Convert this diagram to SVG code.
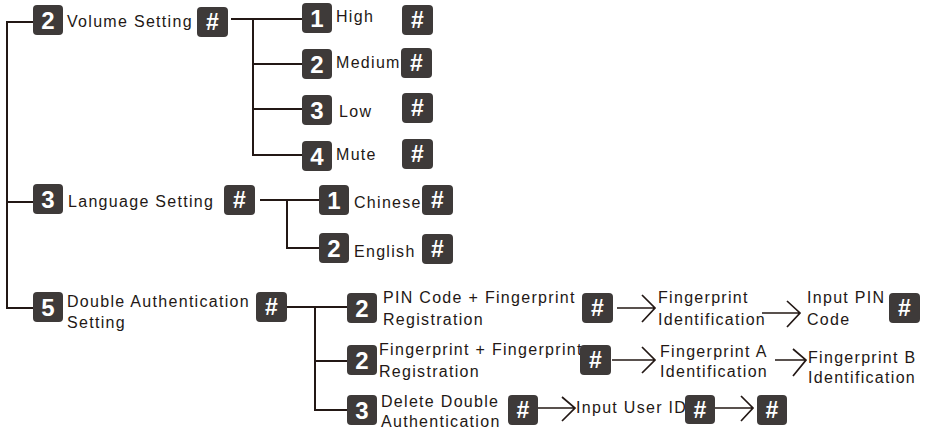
<svg xmlns="http://www.w3.org/2000/svg" width="932" height="435" viewBox="0 0 932 435">
<style>
.bx{fill:#3e3a39}
.num{font-family:"Liberation Sans",Arial,sans-serif;font-weight:bold;font-size:24px;fill:#fff;text-anchor:middle}
.hs{font-family:"Liberation Sans",Arial,sans-serif;font-weight:bold;font-size:23px;fill:#fff;text-anchor:middle}
.t{font-family:"Liberation Sans",Arial,sans-serif;font-size:16px;letter-spacing:1.3px;fill:#231815}
.ln{fill:none;stroke:#231815;stroke-width:2}
.ar{fill:none;stroke:#231815;stroke-width:1.7}
</style>
<g id="connectors">
<path class="ln" d="M33,22 H7 V308 H33 M7,202 H33"/>
<path class="ln" d="M231,19 H302 M253,19 V155 H302 M253,64 H302 M253,109 H302"/>
<path class="ln" d="M260,200 H319 M287,200 V248 H319"/>
<path class="ln" d="M286,307 H347 M315,307 V410 H347 M315,361 H347"/>
<path class="ar" d="M617,308 H655 M642,295 L655,308 L642,322"/>
<path class="ar" d="M762,313 H800 M787,301 L800,313 L787,327"/>
<path class="ar" d="M612,360 H655 M642,347 L655,360 L642,373"/>
<path class="ar" d="M775,360 H806 M793,349 L806,360 L793,376"/>
<path class="ar" d="M538,408 H575 M562,397 L575,408 L562,421"/>
<path class="ar" d="M715,408 H753 M741,396 L753,408 L741,421"/>
</g>
<g id="volume">
<rect class="bx" x="33" y="5" width="30" height="30" rx="4"/><text class="num" x="48" y="29">2</text>
<text class="t" x="67" y="27">Volume Setting</text>
<rect class="bx" x="197" y="7" width="31" height="30" rx="4"/><text class="hs" x="212.5" y="30">#</text>
</g>
<g id="high">
<rect class="bx" x="302" y="3" width="30" height="30" rx="4"/><text class="num" x="317" y="27">1</text>
<text class="t" x="336" y="22">High</text>
<rect class="bx" x="402" y="5" width="31" height="30" rx="4"/><text class="hs" x="417.5" y="28">#</text>
</g>
<g id="medium">
<rect class="bx" x="302" y="49" width="30" height="30" rx="4"/><text class="num" x="317" y="73">2</text>
<text class="t" x="336" y="68">Medium</text>
<rect class="bx" x="401" y="48" width="31" height="30" rx="4"/><text class="hs" x="416.5" y="71">#</text>
</g>
<g id="low">
<rect class="bx" x="302" y="95" width="30" height="30" rx="4"/><text class="num" x="317" y="119">3</text>
<text class="t" x="339" y="117">Low</text>
<rect class="bx" x="402" y="93" width="31" height="30" rx="4"/><text class="hs" x="417.5" y="116">#</text>
</g>
<g id="mute">
<rect class="bx" x="302" y="141" width="30" height="30" rx="4"/><text class="num" x="317" y="165">4</text>
<text class="t" x="336" y="160">Mute</text>
<rect class="bx" x="402" y="139" width="31" height="30" rx="4"/><text class="hs" x="417.5" y="162">#</text>
</g>
<g id="language">
<rect class="bx" x="33" y="184" width="30" height="30" rx="4"/><text class="num" x="48" y="208">3</text>
<text class="t" x="68" y="207">Language Setting</text>
<rect class="bx" x="224" y="185" width="31" height="30" rx="4"/><text class="hs" x="239.5" y="208">#</text>
</g>
<g id="chinese">
<rect class="bx" x="319" y="185" width="30" height="30" rx="4"/><text class="num" x="334" y="209">1</text>
<text class="t" x="354" y="208">Chinese</text>
<rect class="bx" x="422" y="185" width="31" height="30" rx="4"/><text class="hs" x="437.5" y="208">#</text>
</g>
<g id="english">
<rect class="bx" x="319" y="233" width="30" height="30" rx="4"/><text class="num" x="334" y="257">2</text>
<text class="t" x="354" y="257">English</text>
<rect class="bx" x="422" y="234" width="31" height="30" rx="4"/><text class="hs" x="437.5" y="257">#</text>
</g>
<g id="double">
<rect class="bx" x="33" y="292" width="30" height="30" rx="4"/><text class="num" x="48" y="316">5</text>
<text class="t" x="67" y="307">Double Authentication</text>
<text class="t" x="67" y="328">Setting</text>
<rect class="bx" x="256" y="292" width="31" height="30" rx="4"/><text class="hs" x="271.5" y="315">#</text>
</g>
<g id="pin-reg">
<rect class="bx" x="347" y="293" width="30" height="30" rx="4"/><text class="num" x="362" y="317">2</text>
<text class="t" x="383" y="303">PIN Code + Fingerprint</text>
<text class="t" x="383" y="325">Registration</text>
<rect class="bx" x="582" y="293" width="31" height="30" rx="4"/><text class="hs" x="597.5" y="316">#</text>
</g>
<g id="fp-ident">
<text class="t" x="658" y="303">Fingerprint</text>
<text class="t" x="658" y="325">Identification</text>
</g>
<g id="input-pin">
<text class="t" x="807" y="303">Input PIN</text>
<text class="t" x="807" y="325">Code</text>
<rect class="bx" x="889" y="293" width="31" height="30" rx="4"/><text class="hs" x="904.5" y="316">#</text>
</g>
<g id="fp-reg">
<rect class="bx" x="347" y="345" width="30" height="30" rx="4"/><text class="num" x="362" y="369">2</text>
<text class="t" x="379" y="355">Fingerprint + Fingerprint</text>
<text class="t" x="379" y="377">Registration</text>
<rect class="bx" x="580" y="345" width="31" height="30" rx="4"/><text class="hs" x="595.5" y="368">#</text>
</g>
<g id="fp-a">
<text class="t" x="660" y="357">Fingerprint A</text>
<text class="t" x="660" y="377">Identification</text>
</g>
<g id="fp-b">
<text class="t" x="808" y="363">Fingerprint B</text>
<text class="t" x="808" y="383">Identification</text>
</g>
<g id="delete">
<rect class="bx" x="347" y="395" width="30" height="30" rx="4"/><text class="num" x="362" y="419">3</text>
<text class="t" x="381" y="407">Delete Double</text>
<text class="t" x="381" y="427">Authentication</text>
<rect class="bx" x="508" y="395" width="30" height="30" rx="4"/><text class="hs" x="523" y="418">#</text>
</g>
<g id="input-user">
<text class="t" x="576" y="413">Input User ID</text>
<rect class="bx" x="685" y="395" width="30" height="29" rx="4"/><text class="hs" x="700" y="418">#</text>
</g>
<g id="final-hash">
<rect class="bx" x="757" y="395" width="30" height="30" rx="4"/><text class="hs" x="772" y="418">#</text>
</g>
</svg>
